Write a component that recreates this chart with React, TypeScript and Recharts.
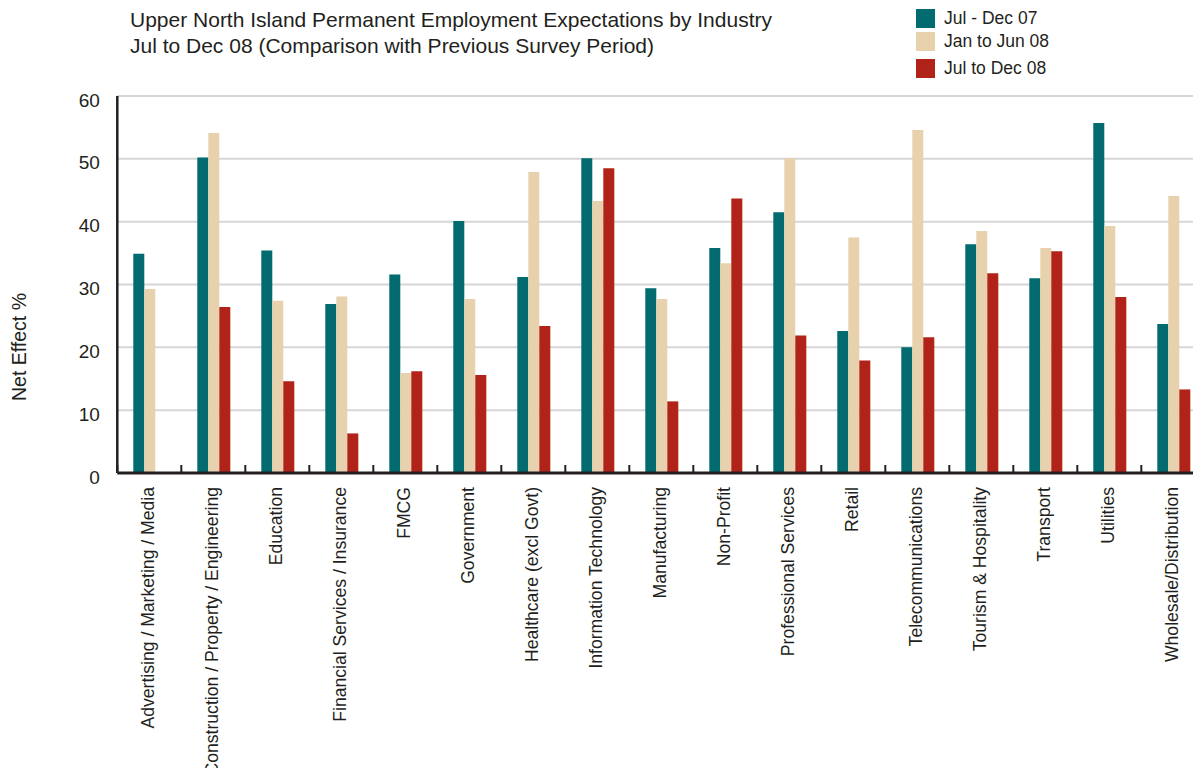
import { Bar, BarChart, CartesianGrid, Label, Legend, XAxis, YAxis } from 'recharts';

const categories = [
  'Advertising / Marketing / Media',
  'Construction / Property / Engineering',
  'Education',
  'Financial Services / Insurance',
  'FMCG',
  'Government',
  'Healthcare (excl Govt)',
  'Information Technology',
  'Manufacturing',
  'Non-Profit',
  'Professional Services',
  'Retail',
  'Telecommunications',
  'Tourism & Hospitality',
  'Transport',
  'Utilities',
  'Wholesale/Distribution',
];

const julDec07 = [34.9, 50.2, 35.4, 26.9, 31.6, 40.1, 31.2, 50.1, 29.4, 35.8, 41.5, 22.6, 20.0, 36.4, 31.0, 55.7, 23.7];
const janJun08 = [29.3, 54.1, 27.4, 28.1, 15.9, 27.7, 47.9, 43.3, 27.7, 33.4, 50.1, 37.5, 54.6, 38.5, 35.8, 39.3, 44.1];
const julDec08 = [null, 26.4, 14.6, 6.3, 16.2, 15.6, 23.4, 48.5, 11.4, 43.7, 21.9, 17.9, 21.6, 31.8, 35.3, 28.0, 13.3];

const yTicks = [0, 10, 20, 30, 40, 50, 60];

const seriesNames = ['Jul - Dec 07', 'Jan to Jun 08', 'Jul to Dec 08'];
const seriesColors = ['#016b6f', '#e8d2ad', '#b12318'];

const FONT = '"Liberation Sans", Arial, Helvetica, sans-serif';
const INK = '#231f20';

const W = 1210;
const H = 768;
const MARGIN = { top: 88, right: 12.7, bottom: 0, left: 0 };
const Y_AXIS_W = 109.3;
const BAND = (W - MARGIN.left - MARGIN.right - Y_AXIS_W) / categories.length;

const data = categories.map((name, i) => ({
  name,
  a: julDec07[i],
  b: janJun08[i],
  c: julDec08[i],
}));

// label rotated, plus the small divider tick at the left edge of each band
const XTick = (props: any) => {
  const { x, y, payload } = props;
  const edge = x - BAND / 2;
  return (
    <g>
      <line x1={edge} y1={y} x2={edge} y2={y - 8} stroke={INK} strokeWidth={2} />
      <text
        transform={`translate(${x},${y + 14}) rotate(-90)`}
        textAnchor="end"
        dy={5}
        fontSize={17.6}
        fontFamily={FONT}
        fill={INK}
      >
        {payload.value}
      </text>
    </g>
  );
};

const YTick = (props: any) => {
  const { x, y, payload } = props;
  return (
    <text x={x - 17.5} y={y} dy={10.5} textAnchor="end" fontSize={19} fontFamily={FONT} fill={INK}>
      {payload.value}
    </text>
  );
};

const YLabel = () => (
  <text
    transform="translate(11,339) rotate(-90)"
    textAnchor="middle"
    dy="0.36em"
    fontSize={19.5}
    fontFamily={FONT}
    fill={INK}
  >
    Net Effect %
  </text>
);

const legendGaps = [0, 4.3, 8];

const renderLegend = (props: any) => {
  const { payload } = props;
  return (
    <div style={{ fontFamily: FONT }}>
      {payload.map((p: any, i: number) => (
        <div
          key={p.value}
          style={{ display: 'flex', alignItems: 'center', height: 19, marginTop: legendGaps[i] }}
        >
          <span style={{ width: 19, height: 19, background: p.color, marginRight: 9, display: 'inline-block' }} />
          <span style={{ fontSize: 17.5, color: INK, whiteSpace: 'nowrap' }}>{p.value}</span>
        </div>
      ))}
    </div>
  );
};

export default function App() {
  return (
    <div style={{ position: 'relative', width: 1193, height: H, marginBottom: -8, overflow: 'hidden', background: '#fff' }}>
      <BarChart width={W} height={H} data={data} margin={MARGIN} barCategoryGap={16} barGap={0}>
        <CartesianGrid vertical={false} stroke="#d6d6d6" strokeWidth={2} />
        <XAxis
          dataKey="name"
          interval={0}
          height={303}
          tickSize={0}
          tickMargin={0}
          tickLine={false}
          tick={<XTick />}
          axisLine={{ stroke: INK, strokeWidth: 3 }}
        />
        <YAxis
          width={Y_AXIS_W}
          domain={[0, 60]}
          ticks={yTicks}
          interval={0}
          tickSize={0}
          tickMargin={0}
          tickLine={false}
          tick={<YTick />}
          axisLine={{ stroke: INK, strokeWidth: 2.5 }}
        >
          <Label content={<YLabel />} />
        </YAxis>
        <Legend
          layout="vertical"
          align="center"
          verticalAlign="middle"
          itemSorter="dataKey"
          content={renderLegend}
          wrapperStyle={{ top: 1, left: 908, width: 'auto', height: 'auto' }}
        />
        <Bar dataKey="a" name={seriesNames[0]} fill={seriesColors[0]} isAnimationActive={false} />
        <Bar dataKey="b" name={seriesNames[1]} fill={seriesColors[1]} isAnimationActive={false} />
        <Bar dataKey="c" name={seriesNames[2]} fill={seriesColors[2]} isAnimationActive={false} />
      </BarChart>
      <div
        style={{
          position: 'absolute',
          left: 122,
          top: -1,
          fontFamily: FONT,
          fontSize: 21,
          lineHeight: '26px',
          color: INK,
          whiteSpace: 'nowrap',
        }}
      >
        <div>Upper North Island Permanent Employment Expectations by Industry</div>
        <div>Jul to Dec 08 (Comparison with Previous Survey Period)</div>
      </div>
    </div>
  );
}
